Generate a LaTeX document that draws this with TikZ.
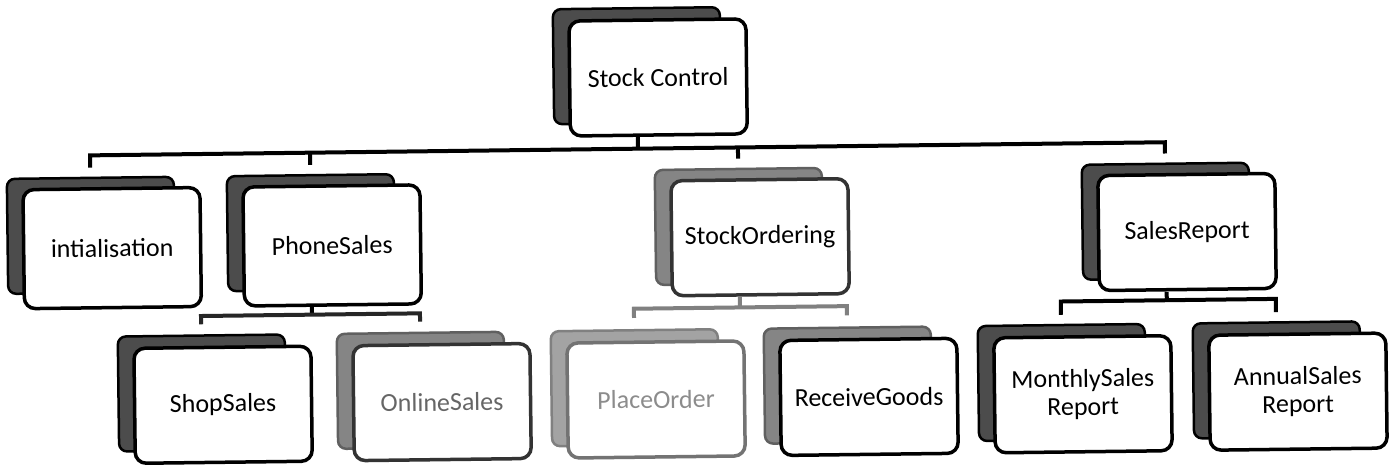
\documentclass[tikz,border=0pt]{standalone}
\usepackage{fontspec}
\setmainfont{Carlito}

\definecolor{shadedark}{gray}{0.3}
\definecolor{shademid}{gray}{0.52}
\definecolor{shadepale}{gray}{0.64}

\tikzset{
  backbox/.style={draw=black, line width=2.5pt, fill=shadedark,
    rounded corners=8pt, minimum width=167pt, minimum height=115pt},
  backpale/.style={backbox, draw=gray!75!black, fill=shademid},
  frontbox/.style={draw=black, line width=3.5pt, fill=white,
    rounded corners=11pt, minimum width=177pt, minimum height=115pt,
    align=center, font=\fontsize{26}{28}\selectfont},
  wire/.style={draw=black, line width=4pt},
}

\begin{document}
\begin{tikzpicture}[x=1pt,y=-1pt]
  \path[use as bounding box, fill=white] (0,0) rectangle (1391,465);

  % the scan is turned a little
  \begin{scope}[rotate around={0.7:(695,232)}, transform shape]

  % top level
  \node[backbox] (sc) at (639,65) {};
  \node[frontbox] (sc-f) at (660,77) {Stock Control};

  \node[backbox] (init) at (91,228) {};
  \node[frontbox, minimum height=119pt] (init-f) at (112,241) {intialisation};
  \node[backbox] (phone) at (311,228) {};
  \node[frontbox, minimum height=119pt] (phone-f) at (332,241) {PhoneSales};
  \node[backpale] (so) at (739,227) {};
  \node[frontbox, draw=black!80] (so-f) at (760,238) {StockOrdering};
  \node[backbox] (sr) at (1166,227) {};
  \node[frontbox] (sr-f) at (1187,238) {SalesReport};

  \node[backbox] (shop) at (200,387) {};
  \node[frontbox] (shop-f) at (221,399) {ShopSales};
  \node[backpale] (online) at (419,387) {};
  \node[frontbox, draw=black!80, text=black!60] (online-f) at (440,399)
    {OnlineSales};
  \node[backpale, draw=black!50, fill=shadepale] (place) at (633,387) {};
  \node[frontbox, draw=black!55, text=black!45] (place-f) at (654,399)
    {PlaceOrder};
  \node[backpale] (receive) at (846,387) {};
  \node[frontbox] (receive-f) at (867,399) {ReceiveGoods};
  \node[backbox] (monthly) at (1060,387) {};
  \node[frontbox] (monthly-f) at (1081,399) {MonthlySales\\Report};
  \node[backbox] (annual) at (1275,387) {};
  \node[frontbox] (annual-f) at (1296,399) {AnnualSales\\Report};

  % joints
  \coordinate (sc-j) at (639,148);
  \coordinate (top-l) at (91,148);
  \coordinate (top-r) at (1166,148);
  \coordinate (phone-j) at (311,148);
  \coordinate (so-j) at (739,148);
  \coordinate (phone-b) at (311,310);
  \coordinate (shop-j) at (200,310);
  \coordinate (online-j) at (419,310);
  \coordinate (so-b) at (739,308);
  \coordinate (place-j) at (633,308);
  \coordinate (receive-j) at (846,308);
  \coordinate (sr-b) at (1166,306);
  \coordinate (monthly-j) at (1060,306);
  \coordinate (annual-j) at (1275,306);

  \draw[wire, shorten >=12pt] (sc-j) -- (sc.south);
  \draw[wire, shorten <=9pt, shorten >=9pt]
    (init.north) -- (top-l) -- (top-r) -- (sr.north);
  \draw[wire, shorten >=9pt] (phone-j) -- (phone.north);
  \draw[wire, shorten >=9pt] (so-j) -- (so.north);

  \draw[wire, shorten <=14pt] (phone.south) -- (phone-b);
  \draw[wire, draw=black!85, shorten <=10pt, shorten >=10pt]
    (shop.north) -- (shop-j) -- (online-j) -- (online.north);

  \draw[wire, draw=black!50, shorten <=12pt] (so.south) -- (so-b);
  \draw[wire, draw=black!50, shorten <=11pt, shorten >=11pt]
    (place.north) -- (place-j) -- (receive-j) -- (receive.north);

  \draw[wire, shorten <=12pt] (sr.south) -- (sr-b);
  \draw[wire, shorten <=9pt, shorten >=9pt]
    (monthly.north) -- (monthly-j) -- (annual-j) -- (annual.north);
  \end{scope}
\end{tikzpicture}
\end{document}
